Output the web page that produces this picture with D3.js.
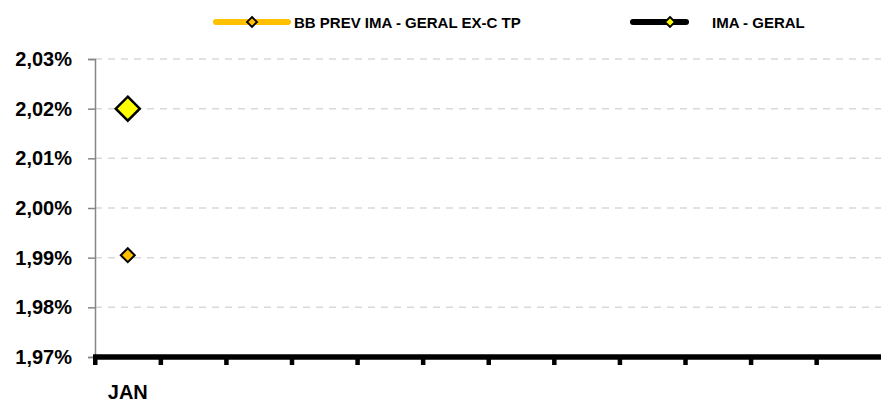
<!DOCTYPE html>
<html>
<head>
<meta charset="utf-8">
<script src="https://cdn.jsdelivr.net/npm/d3@7"></script>
<style>
  body { margin: 0; background: #fff; }
  svg { display: block; font-family: "Liberation Sans", Arial, sans-serif; font-weight: bold; }
  .grid line { stroke: #d9d9d9; stroke-width: 1.5; stroke-dasharray: 7,6; }
</style>
</head>
<body>
<svg width="881" height="402"></svg>
<script>
const months = ['JAN', 'FEV', 'MAR', 'ABR', 'MAI', 'JUN', 'JUL', 'AGO', 'SET', 'OUT', 'NOV', 'DEZ'];
const monthLabels = ['JAN', '', '', '', '', '', '', '', '', '', '', ''];
const yTicks = [1.97, 1.98, 1.99, 2.00, 2.01, 2.02, 2.03];
const bbPrev = [1.9905];
const imaGeral = [2.02];
const seriesNames = ['BB PREV IMA - GERAL EX-C TP', 'IMA - GERAL'];

function whenLoaded() {
const svg = d3.select('svg');

const x = d3.scaleBand().domain(months).range([95, 882]);
const y = d3.scaleLinear().domain([1.97, 2.03]).range([357, 59]);

const ptBR = d3.formatLocale({decimal: ',', thousands: '.', grouping: [3], currency: ['R$', '']});
const pctFormat = d => ptBR.format('.2f')(d) + '%';

// grid
svg.append('g')
  .attr('class', 'grid')
  .selectAll('line').data(yTicks.filter(d => d > 1.97))
  .enter().append('line')
    .attr('x1', 95).attr('x2', 881)
    .attr('y1', d => y(d)).attr('y2', d => y(d));

// y axis
const yAxisG = svg.append('g')
  .attr('transform', 'translate(95,0)')
  .call(d3.axisLeft(y).tickValues(yTicks).tickFormat(pctFormat).tickSize(7).tickPadding(16));
yAxisG.select('.domain').attr('stroke', '#868686').attr('stroke-width', 1.5);
yAxisG.selectAll('.tick line').attr('stroke', '#868686').attr('stroke-width', 1.5);
yAxisG.selectAll('.tick text')
  .attr('font-size', 20).attr('font-family', '"Liberation Sans", Arial, sans-serif')
  .attr('font-weight', 'bold').attr('fill', '#000');

// x axis
const xAxisG = svg.append('g');
xAxisG.append('line')
  .attr('x1', 93).attr('x2', 881)
  .attr('y1', 357).attr('y2', 357)
  .attr('stroke', '#000').attr('stroke-width', 5.5);
xAxisG.selectAll('rect.tick').data(months)
  .enter().append('rect')
    .attr('class', 'tick')
    .attr('x', d => x(d) - 2).attr('y', 357)
    .attr('width', 4.5).attr('height', 8)
    .attr('fill', '#000');
xAxisG.selectAll('text').data(months)
  .enter().append('text')
    .attr('x', d => x(d) + x.bandwidth() / 2)
    .attr('y', 399)
    .attr('text-anchor', 'middle')
    .attr('font-size', 20)
    .text((d, i) => monthLabels[i]);

const diamond = (cx, cy, r) => `M${cx},${cy - r}L${cx + r},${cy}L${cx},${cy + r}L${cx - r},${cy}Z`;

// series
const series = [
  {name: seriesNames[0], values: bbPrev, line: '#ffc000', fill: '#ffc000', r: 7, sw: 2},
  {name: seriesNames[1], values: imaGeral, line: '#000000', fill: '#ffff00', r: 12, sw: 2.5}
];

const lineGen = d3.line()
  .x((d, i) => x(months[i]) + x.bandwidth() / 2)
  .y(d => y(d));

series.forEach(s => {
  svg.append('path')
    .attr('d', lineGen(s.values))
    .attr('fill', 'none')
    .attr('stroke', s.line)
    .attr('stroke-width', 5);
  svg.selectAll(null).data(s.values)
    .enter().append('path')
      .attr('d', (d, i) => diamond(x(months[i]) + x.bandwidth() / 2, y(d), s.r))
      .attr('fill', s.fill)
      .attr('stroke', '#000')
      .attr('stroke-width', s.sw)
      .attr('stroke-linejoin', 'miter');
});

// legend
const legend = [
  {name: seriesNames[0], x1: 216, x2: 288, mx: 252, tx: 294, line: '#ffc000', fill: '#ffc000', stroke: '#000'},
  {name: seriesNames[1], x1: 633, x2: 686, mx: 670, tx: 712, line: '#000000', fill: '#ffff00', stroke: '#000'}
];
const legendG = svg.append('g');
legend.forEach(l => {
  legendG.append('line')
    .attr('x1', l.x1).attr('x2', l.x2)
    .attr('y1', 22).attr('y2', 22)
    .attr('stroke', l.line).attr('stroke-width', 6)
    .attr('stroke-linecap', 'round');
  legendG.append('path')
    .attr('d', diamond(l.mx, 22, 5))
    .attr('fill', l.fill).attr('stroke', l.stroke).attr('stroke-width', 1.8);
  legendG.append('text')
    .attr('x', l.tx).attr('y', 27.5)
    .attr('font-size', 15)
    .text(l.name);
});
}

window.onload = whenLoaded;
</script>
</body>
</html>
